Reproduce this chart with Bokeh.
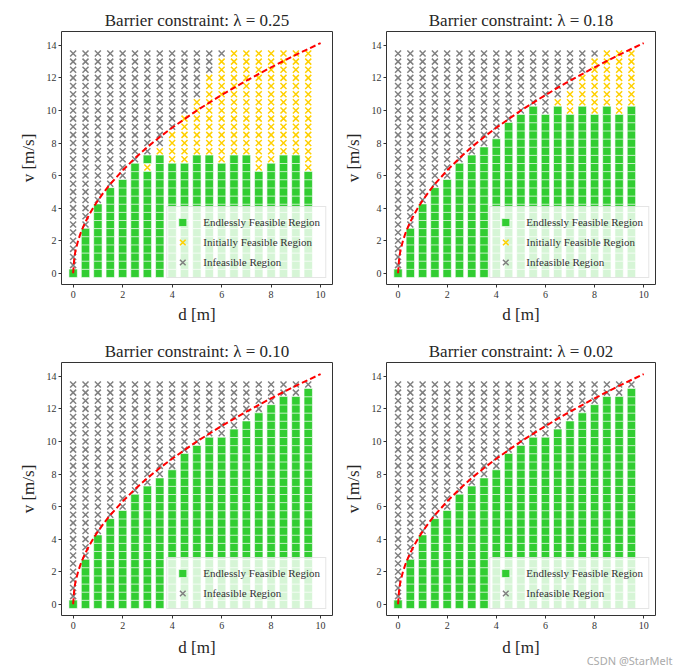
from bokeh.plotting import figure
from bokeh.layouts import column, row
from bokeh.models import Range1d, FixedTicker, Legend, LegendItem, Title
from bokeh.embed import file_html
from bokeh.resources import INLINE

# ---------------- data ----------------
d_values = [0.0, 0.5, 1.0, 1.5, 2.0, 2.5, 3.0, 3.5, 4.0, 4.5,
            5.0, 5.5, 6.0, 6.5, 7.0, 7.5, 8.0, 8.5, 9.0, 9.5]
v_values = [0.0, 0.5, 1.0, 1.5, 2.0, 2.5, 3.0, 3.5, 4.0, 4.5,
            5.0, 5.5, 6.0, 6.5, 7.0, 7.5, 8.0, 8.5, 9.0, 9.5,
            10.0, 10.5, 11.0, 11.5, 12.0, 12.5, 13.0, 13.5]

lambda_labels = ["0.25", "0.18", "0.10", "0.02"]

# highest v of the endlessly feasible (green) cells in each d column
endless_top_025 = [0, 2.5, 4, 5, 5.5, 6.5, 7, 7, 6.5, 6.5, 7, 7, 6.5, 7, 7, 6, 6.5, 7, 7, 6]
endless_top_018 = [0, 2.5, 4, 5, 5.5, 6.5, 7, 7.5, 8, 9, 9.5, 10, 9.5, 10, 9.5, 10, 9.5, 10, 9.5, 10]
endless_top_010 = [0, 2.5, 4, 5, 5.5, 6.5, 7, 7.5, 8, 9, 9.5, 10, 10, 10.5, 11, 11.5, 12, 12.5, 12.5, 13]
endless_top_002 = [0, 2.5, 4, 5, 5.5, 6.5, 7, 7.5, 8, 9, 9.5, 10, 10, 10.5, 11, 11.5, 12, 12.5, 12.5, 13]

# highest v of the initially feasible (yellow) cells in each d column
initial_top_025 = [0, 2.5, 4, 5, 5.5, 6.5, 7, 7.5, 8.5, 9.5, 10.5, 12, 13, 13.5, 13.5, 13.5, 13.5, 13.5, 13.5, 13.5]
initial_top_018 = [0, 2.5, 4, 5, 5.5, 6.5, 7, 7.5, 8, 9, 9.5, 10, 9.5, 10.5, 11, 12, 13, 13.5, 13.5, 13.5]
initial_top_010 = endless_top_010
initial_top_002 = endless_top_002

# initially feasible cells lying inside a green column
initial_holes_025 = [(3.0, 6.5)]
initial_holes_018 = []
initial_holes_010 = []
initial_holes_002 = []

# boundary curve
curve_d = [0.0, 0.05, 0.1, 0.2, 0.3, 0.45, 0.6, 0.8, 1.0, 1.25, 1.5, 2.0, 2.5,
           3.0, 3.5, 4.0, 5.0, 6.0, 7.0, 8.0, 9.0, 10.0]
curve_v = [0.0, 1.0, 1.41, 2.0, 2.45, 3.0, 3.46, 4.0, 4.47, 5.0, 5.48, 6.32, 7.07,
           7.75, 8.37, 8.94, 10.0, 10.95, 11.83, 12.65, 13.42, 14.14]

x_ticks = [0, 2, 4, 6, 8, 10]
y_ticks = [0, 2, 4, 6, 8, 10, 12, 14]

panels = [
    (lambda_labels[0], endless_top_025, initial_top_025, initial_holes_025, True),
    (lambda_labels[1], endless_top_018, initial_top_018, initial_holes_018, True),
    (lambda_labels[2], endless_top_010, initial_top_010, initial_holes_010, False),
    (lambda_labels[3], endless_top_002, initial_top_002, initial_holes_002, False),
]

# ---------------- style ----------------
GREEN = "#32CD32"
GOLD = "#FFD000"
GRAY = "#808080"
SERIF = "Liberation Serif"
X0, X1 = -0.47, 10.48
Y0, Y1 = -0.69, 14.85


def make_panel(lam, endless_top, initial_top, holes, show_initial,
               width, height, bl, br, bt, bb, xlab_standoff):
    p = figure(width=width, height=height, output_backend="svg", toolbar_location=None,
               x_range=Range1d(X0, X1), y_range=Range1d(Y0, Y1),
               min_border_left=bl, min_border_right=br, min_border_top=bt,
               min_border_bottom=bb)
    p.background_fill_color = "white"
    p.border_fill_color = "white"
    p.outline_line_color = "#333333"
    p.outline_line_width = 1
    p.xgrid.visible = False
    p.ygrid.visible = False

    p.title.text = "Barrier constraint: \u03bb = " + lam
    p.title.align = "center"
    p.title.text_font = SERIF
    p.title.text_font_size = "17px"
    p.title.text_font_style = "normal"
    p.title.text_color = "#262626"
    p.title.standoff = 4

    for ax, ticks in ((p.xaxis[0], x_ticks), (p.yaxis[0], y_ticks)):
        ax.ticker = FixedTicker(ticks=ticks)
        ax.axis_line_color = None
        ax.major_tick_line_color = "#333333"
        ax.major_tick_out = 3
        ax.major_tick_in = 0
        ax.minor_tick_line_color = None
        ax.major_label_text_font = SERIF
        ax.major_label_text_font_size = "10px"
        ax.major_label_text_color = "#333333"
        ax.axis_label_text_font = SERIF
        ax.axis_label_text_font_size = "17px"
        ax.axis_label_text_font_style = "normal"
        ax.axis_label_text_color = "#262626"
    p.yaxis[0].major_label_standoff = 2
    p.xaxis[0].major_label_standoff = 3
    p.yaxis[0].axis_label = "v [m/s]"
    p.xaxis[0].axis_label = "d [m]"
    p.yaxis[0].axis_label_standoff = 6
    p.xaxis[0].axis_label_standoff = xlab_standoff

    gx, gy, yx, yy, nx, ny = [], [], [], [], [], []
    for i, d in enumerate(d_values):
        for v in v_values:
            if v <= endless_top[i] and (d, v) not in holes:
                gx.append(d); gy.append(v)
            elif v <= initial_top[i] or (d, v) in holes:
                yx.append(d); yy.append(v)
            else:
                nx.append(d); ny.append(v)

    r_green = p.scatter(gx, gy, marker="square", size=8.4, fill_color=GREEN,
                        line_color="white", line_width=0.6)
    r_yellow = p.scatter(yx, yy, marker="x", size=8.5, line_color=GOLD, line_width=1.5)
    r_gray = p.scatter(nx, ny, marker="x", size=8.5, line_color=GRAY, line_width=1.5)
    p.line(curve_d, curve_v, line_color="red", line_width=2, line_dash="6 3")

    items = [LegendItem(label="Endlessly Feasible Region", renderers=[r_green])]
    if show_initial:
        items.append(LegendItem(label="Initially Feasible Region", renderers=[r_yellow]))
    items.append(LegendItem(label="Infeasible Region", renderers=[r_gray]))
    legend = Legend(items=items, location="bottom_right", margin=6, padding=5,
                    spacing=-5, glyph_width=20, glyph_height=20, label_height=15,
                    label_standoff=11, label_text_font=SERIF,
                    label_text_font_size="11px", label_text_color="#333333",
                    background_fill_color="white", background_fill_alpha=0.8,
                    border_line_color="#cccccc", border_line_width=1)
    p.add_layout(legend)
    return p


p1 = make_panel(*panels[0], width=340, height=330, bl=61, br=8, bt=31, bb=46, xlab_standoff=4)
p2 = make_panel(*panels[1], width=343, height=330, bl=44, br=28, bt=31, bb=46, xlab_standoff=4)
p3 = make_panel(*panels[2], width=340, height=339, bl=61, br=8, bt=32, bb=54, xlab_standoff=6)
p4 = make_panel(*panels[3], width=343, height=339, bl=44, br=28, bt=32, bb=54, xlab_standoff=6)

p4.add_layout(Title(text="CSDN @StarMelt", align="right", vertical_align="top",
                    text_font="Noto Sans", text_font_size="11px",
                    text_font_style="normal", text_color="#aaaaaa",
                    standoff=-14, offset=-17), "below")

layout = column(row(p1, p2), row(p3, p4))
open("out.html", "w").write(file_html(layout, INLINE))
